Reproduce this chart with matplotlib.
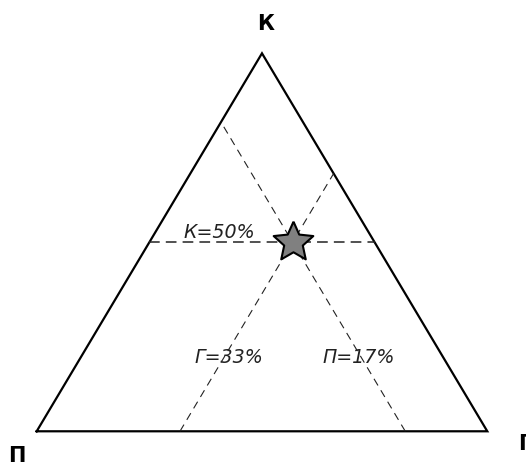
import numpy as np
import matplotlib
matplotlib.use("Agg")
import matplotlib.pyplot as plt

# vertex names: bottom-left, bottom-right, top
vertex_names = ["П", "Г", "К"]
# composition of the marked point (shares as drawn)
share_k = 0.50
share_g = 0.318
share_p = 1 - share_k - share_g
# labels written next to the guide lines
line_labels = ["К=50%", "Г=33%", "П=17%"]


def tern(p, g, k):
    # П at (0,0), Г at (1,0), К at (0.5,1)
    return g + 0.5 * k, k


# a slightly fat five-pointed star for the marker
ang = np.pi / 2 + np.arange(10) * np.pi / 5
rad = np.where(np.arange(10) % 2 == 0, 1.0, 0.47)
star = list(zip(rad * np.cos(ang), rad * np.sin(ang)))
star.append(star[0])

fig = plt.figure(figsize=(5.26, 4.64), dpi=100)
ax = fig.add_axes([0, 0, 1, 1])
ax.set_xlim(-0.0814, 1.0859)
ax.set_ylim(-0.0839, 1.1437)
ax.axis("off")

# triangle outline
tx, ty = zip(*[tern(1, 0, 0), tern(0, 1, 0), tern(0, 0, 1), tern(1, 0, 0)])
ax.plot(tx, ty, color="black", lw=1.6, solid_joinstyle="miter", zorder=2)

# constant К line
x1, y1 = tern(1 - share_k, 0, share_k)
x2, y2 = tern(0, 1 - share_k, share_k)
ax.plot([x1, x2], [y1, y2], color="#222222", lw=1.1, ls=(0, (7, 4)), zorder=3)

# constant Г line
x1, y1 = tern(1 - share_g, share_g, 0)
x2, y2 = tern(0, share_g, 1 - share_g)
ax.plot([x1, x2], [y1, y2], color="#222222", lw=0.8, ls=(0, (7, 5)), zorder=3)

# constant П line
x1, y1 = tern(share_p, 1 - share_p, 0)
x2, y2 = tern(share_p, 0, 1 - share_p)
ax.plot([x1, x2], [y1, y2], color="#222222", lw=0.8, ls=(0, (7, 5)), zorder=3)

# the point
sx, sy = tern(share_p, share_g, share_k)
ax.plot(sx, sy, marker=star, ms=30, mfc="#808080", mec="black", mew=1.5,
        zorder=5)

# vertex labels
ax.text(0.507, 1.080, vertex_names[2], ha="center", va="center",
        fontsize=15, fontweight="bold")
ax.text(-0.044, -0.036, vertex_names[0], ha="center", va="top",
        fontsize=15, fontweight="bold")
ax.text(1.068, -0.004, vertex_names[1], ha="left", va="top",
        fontsize=15, fontweight="bold")

# line labels
ax.text(0.405, 0.513, line_labels[0], ha="center", va="baseline",
        fontsize=13.7, fontstyle="italic", color="#222222", zorder=4)
ax.text(0.426, 0.183, line_labels[1], ha="center", va="baseline",
        fontsize=13.7, fontstyle="italic", color="#222222", zorder=4)
ax.text(0.714, 0.183, line_labels[2], ha="center", va="baseline",
        fontsize=13.7, fontstyle="italic", color="#222222", zorder=4)

fig.savefig("out.png", dpi=100)
